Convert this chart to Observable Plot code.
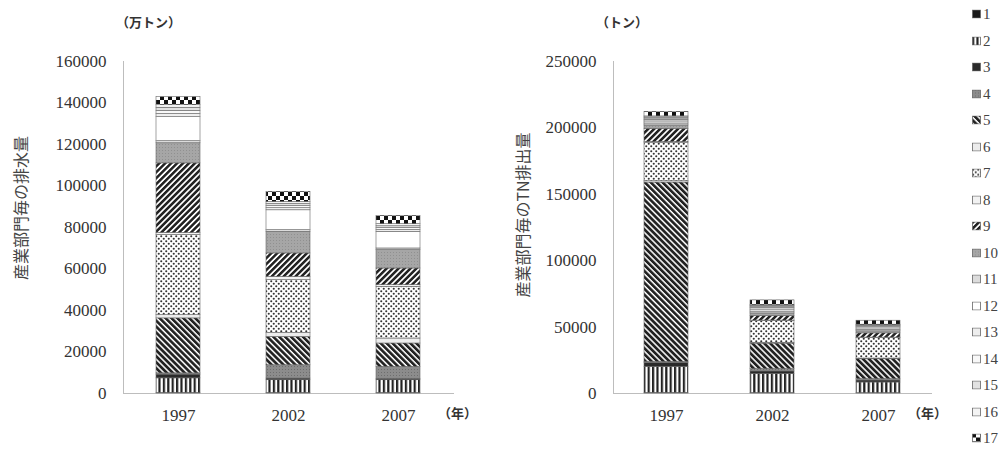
<!DOCTYPE html>
<html>
<head>
<meta charset="utf-8">
<script src="https://cdn.jsdelivr.net/npm/d3@7"></script>
<script src="https://cdn.jsdelivr.net/npm/@observablehq/plot@0.6"></script>
<style>
  body { margin: 0; background: #fff; }
  #page { position: relative; width: 1006px; height: 449px; overflow: hidden; color: #333;
          font-family: "Noto Sans CJK JP", "Noto Sans", sans-serif; }
  .abs { position: absolute; }
  .unit { font-size: 13px; font-weight: bold; color: #333; white-space: nowrap; }
  .ytitle { font-size: 16px; color: #444; white-space: nowrap; transform: translate(-50%, -50%) rotate(-90deg); }
  #legend { position: absolute; left: 972px; top: 0; font-family: "Liberation Serif", serif; font-size: 15px; color: #444; }
  .item { position: absolute; display: flex; align-items: center; gap: 2px; transform: translateY(-50%); white-space: nowrap; }
  .item svg { display: block; }
</style>
</head>
<body>
<div id="page">
  <!-- fill patterns shared by both charts and the legend -->
  <svg width="0" height="0" style="position:absolute">
    <defs>
      <pattern id="p1" width="4" height="4" patternUnits="userSpaceOnUse"><rect width="4" height="4" fill="#1a1a1a"/></pattern>
      <pattern id="p2" width="4.4" height="8" patternUnits="userSpaceOnUse"><rect width="4.4" height="8" fill="#fff"/><rect width="2.2" height="8" fill="#222"/></pattern>
      <pattern id="p3" width="4" height="4" patternUnits="userSpaceOnUse"><rect width="4" height="4" fill="#2a2a2a"/></pattern>
      <pattern id="p4" width="3" height="3" patternUnits="userSpaceOnUse"><rect width="3" height="3" fill="#8c8c8c"/><rect width="1" height="1" fill="#6e6e6e"/></pattern>
      <pattern id="p5" width="4.2" height="4.2" patternUnits="userSpaceOnUse" patternTransform="rotate(-45)"><rect width="4.2" height="4.2" fill="#fff"/><rect width="2.7" height="4.2" fill="#222"/></pattern>
      <pattern id="p6" width="4" height="4" patternUnits="userSpaceOnUse"><rect width="4" height="4" fill="#ececec"/></pattern>
      <pattern id="p7" width="5" height="5" patternUnits="userSpaceOnUse"><rect width="5" height="5" fill="#fff"/><circle cx="1.25" cy="1.25" r="1.05" fill="#333"/><circle cx="3.75" cy="3.75" r="1.05" fill="#333"/></pattern>
      <pattern id="p8" width="4" height="4" patternUnits="userSpaceOnUse"><rect width="4" height="4" fill="#f2f2f2"/></pattern>
      <pattern id="p9" width="4.2" height="4.2" patternUnits="userSpaceOnUse" patternTransform="rotate(45)"><rect width="4.2" height="4.2" fill="#fff"/><rect width="2.5" height="4.2" fill="#222"/></pattern>
      <pattern id="p10" width="3" height="3" patternUnits="userSpaceOnUse"><rect width="3" height="3" fill="#a6a6a6"/><rect width="1" height="1" fill="#909090"/></pattern>
      <pattern id="p11" width="4" height="4" patternUnits="userSpaceOnUse"><rect width="4" height="4" fill="#dcdcdc"/></pattern>
      <pattern id="p12" width="4" height="4" patternUnits="userSpaceOnUse"><rect width="4" height="4" fill="#ffffff"/></pattern>
      <pattern id="p13" width="4" height="4" patternUnits="userSpaceOnUse"><rect width="4" height="4" fill="#eeeeee"/></pattern>
      <pattern id="p14" width="4" height="4" patternUnits="userSpaceOnUse"><rect width="4" height="4" fill="#f8f8f8"/></pattern>
      <pattern id="p15" width="4" height="4" patternUnits="userSpaceOnUse"><rect width="4" height="4" fill="#e2e2e2"/></pattern>
      <pattern id="p16" width="4" height="4" patternUnits="userSpaceOnUse"><rect width="4" height="4" fill="#f4f4f4"/></pattern>
      <pattern id="p17" width="8" height="8" patternUnits="userSpaceOnUse"><rect width="8" height="8" fill="#fff"/><rect width="4" height="4" fill="#111"/><rect x="4" y="4" width="4" height="4" fill="#111"/></pattern>
    </defs>
  </svg>

  <div id="left" class="abs" style="left:0;top:0;width:500px"></div>
  <div id="right" class="abs" style="left:520px;top:0;width:460px"></div>

  <div class="abs unit" style="left:116px;top:12px">（万トン）</div>
  <div class="abs unit" style="left:596px;top:12px">（トン）</div>
  <div class="abs unit" style="left:438px;top:403px">（年）</div>
  <div class="abs unit" style="left:908px;top:403px">（年）</div>

  <div class="abs ytitle" style="left:20px;top:208px">産業部門毎の排水量</div>
  <div class="abs ytitle" style="left:522px;top:215px">産業部門毎のTN排出量</div>

  <div id="legend"></div>
</div>

<script>
// Survey years and industrial sector codes (1–17, stacked bottom to top)
const years = ["1997", "2002", "2007"];
const sectors = d3.range(1, 18).map(String);

// Wastewater discharge by sector (万トン)
const water1997 = [300, 7000, 1800, 600, 26500, 1600, 38600, 1000, 33500, 9700, 1000, 11600, 1500, 1500, 1500, 1300, 3800];
const water2002 = [300, 6100, 800, 6400, 13700, 1900, 25400, 1600, 11300, 10400, 800, 9600, 1000, 1000, 1000, 1000, 4900];
const water2007 = [300, 6100, 700, 5700, 11300, 2400, 24900, 800, 8050, 8850, 800, 8000, 900, 900, 900, 1000, 4000];

// Total nitrogen (TN) discharge by sector (トン)
const tn1997 = [500, 19500, 3000, 750, 135100, 1000, 29000, 500, 10000, 2500, 1500, 1500, 1200, 1000, 800, 800, 3400];
const tn2002 = [400, 14200, 2000, 1700, 19300, 600, 16400, 300, 3400, 2000, 1400, 1500, 1200, 1000, 600, 600, 3500];
const tn2007 = [300, 8000, 1500, 1000, 15000, 500, 15500, 300, 3200, 1500, 1000, 1200, 1000, 800, 500, 500, 3000];

// Y-axis tick values
const waterTicks = [0, 20000, 40000, 60000, 80000, 100000, 120000, 140000, 160000];
const tnTicks = [0, 50000, 100000, 150000, 200000, 250000];

function toRows(byYear) {
  return sectors.flatMap((s, i) => years.map((y, j) => ({year: y, sector: s, value: byYear[j][i]})));
}

function stackedChart({rows, ticks, width, marginLeft, marginRight, paddingInner}) {
  return Plot.plot({
    width,
    height: 449,
    marginTop: 61,
    marginBottom: 56,
    marginLeft,
    marginRight,
    style: {fontFamily: "'Liberation Serif', serif", fontSize: "17px", color: "#333", background: "transparent", overflow: "visible"},
    x: {domain: years, paddingInner, paddingOuter: paddingInner / 2, label: null},
    y: {domain: [0, ticks[ticks.length - 1]], label: null},
    marks: [
      Plot.frame({anchor: "left", stroke: "#bdbdbd"}),
      Plot.frame({anchor: "bottom", stroke: "#bdbdbd"}),
      Plot.axisY({ticks, tickFormat: d3.format("d"), tickSize: 0, tickPadding: 17, label: null}),
      Plot.axisX({tickSize: 0, tickPadding: 15, label: null}),
      Plot.barY(rows, {
        x: "year",
        y: "value",
        fill: d => `url(#p${d.sector})`,
        stroke: "#666",
        strokeWidth: 0.6
      })
    ]
  });
}

document.getElementById("left").append(stackedChart({
  rows: toRows([water1997, water2002, water2007]),
  ticks: waterTicks,
  width: 500, marginLeft: 123, marginRight: 47, paddingInner: 0.6
}));

document.getElementById("right").append(stackedChart({
  rows: toRows([tn1997, tn2002, tn2007]),
  ticks: tnTicks,
  width: 460, marginLeft: 93, marginRight: 49, paddingInner: 0.585
}));

// Legend: one swatch per sector, listed 1 to 17
const legend = d3.select("#legend");
sectors.forEach((s, i) => {
  const item = legend.append("div").attr("class", "item").style("top", `${14 + i * 26.5}px`);
  const sw = item.append("svg").attr("width", 9).attr("height", 9);
  sw.append("rect").attr("x", 0.5).attr("y", 0.5).attr("width", 8).attr("height", 8)
    .attr("fill", `url(#p${s})`).attr("stroke", "#666").attr("stroke-width", 0.8);
  item.append("span").text(s);
});
</script>
</body>
</html>
